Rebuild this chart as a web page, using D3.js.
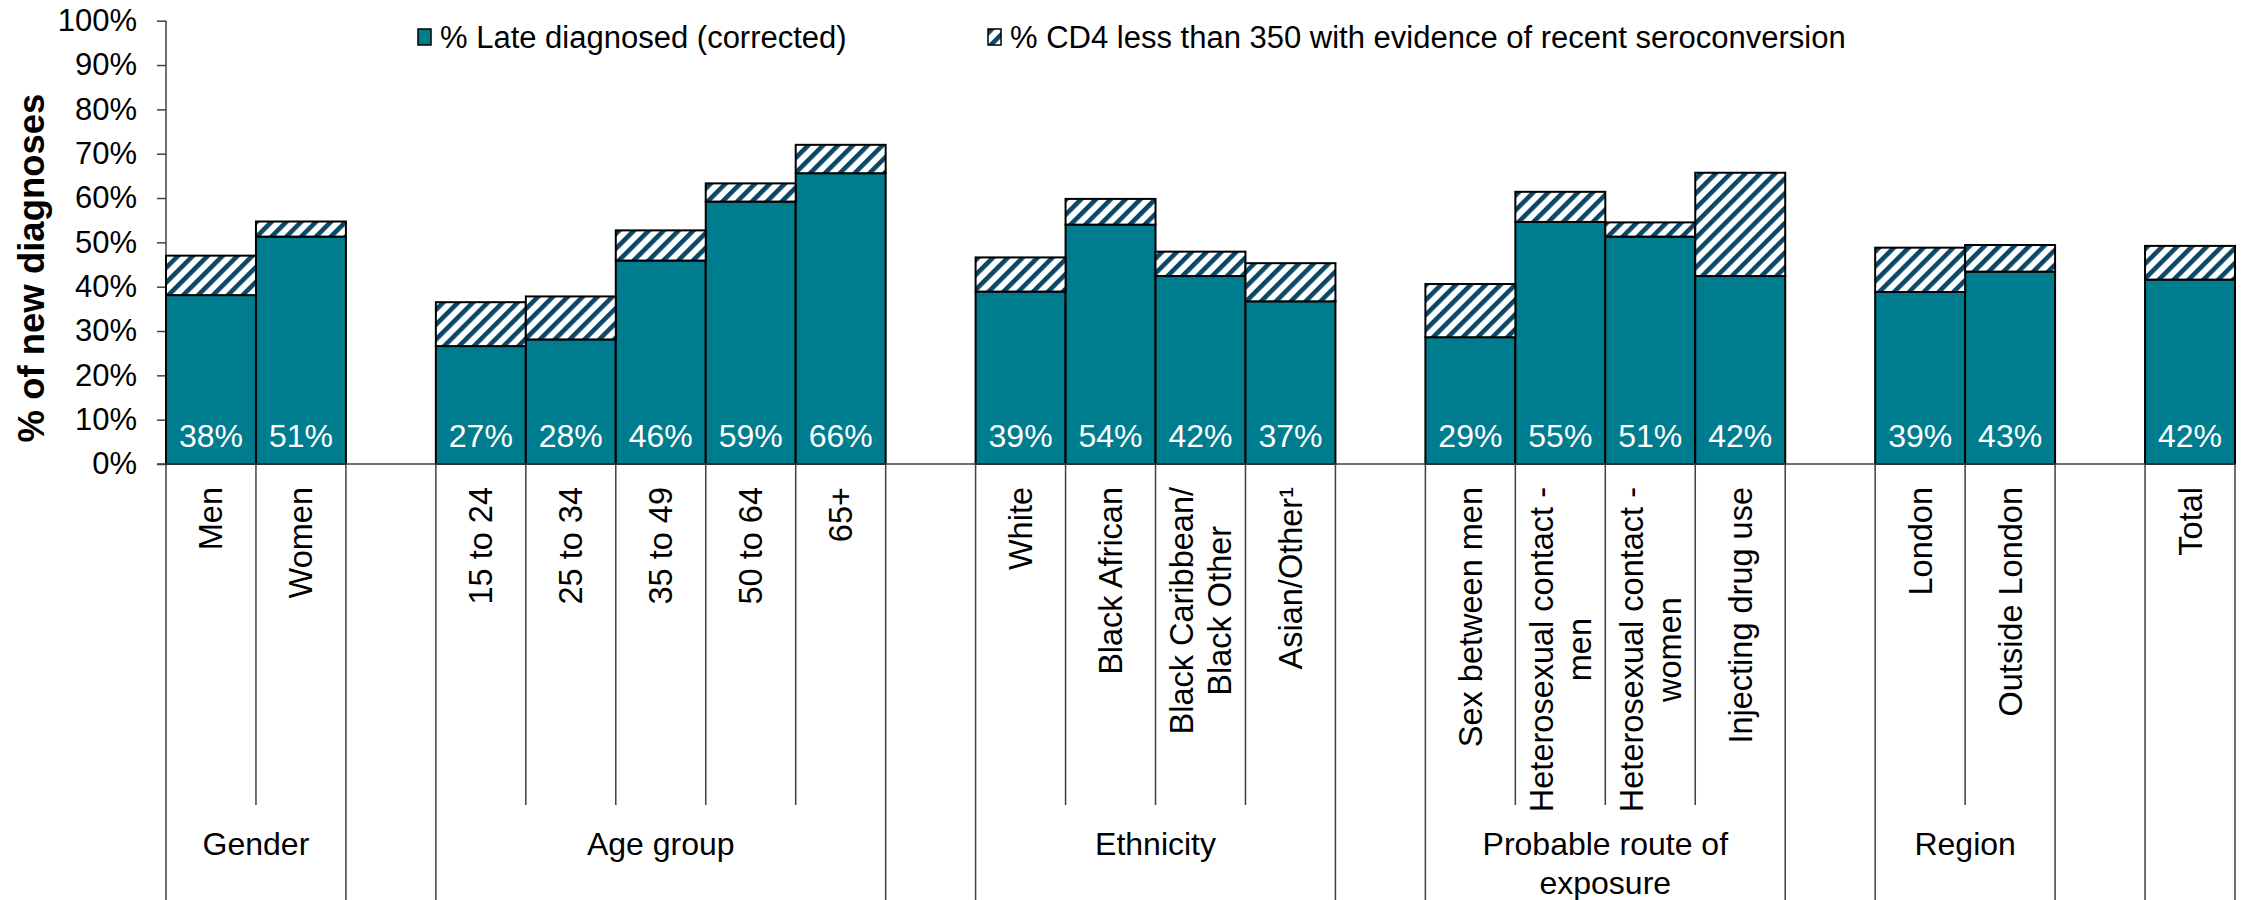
<!DOCTYPE html>
<html>
<head>
<meta charset="utf-8">
<script src="https://cdnjs.cloudflare.com/ajax/libs/d3/7.8.4/d3.min.js"></script>
<style>
  body { margin: 0; background: #fff; }
  svg { display: block; font-family: "Liberation Sans", Arial, sans-serif; }
</style>
</head>
<body>
<div id="chart"></div>
<script>
// categories, blank strings are the spacer slots between groups
const categories = ["Men", "Women", "",
  "15 to 24", "25 to 34", "35 to 49", "50 to 64", "65+", "",
  "White", "Black African", "Black Caribbean/\nBlack Other", "Asian/Other\u00b9", "",
  "Sex between men", "Heterosexual contact -\nmen", "Heterosexual contact -\nwomen", "Injecting drug use", "",
  "London", "Outside London", "",
  "Total"];

// % late diagnosed (corrected)
const lateDiagnosed = [38.1, 51.3, null,
  26.6, 28.1, 45.9, 59.2, 65.6, null,
  38.9, 54.0, 42.4, 36.7, null,
  28.6, 54.6, 51.3, 42.4, null,
  38.8, 43.4, null,
  41.6];

// % CD4 < 350 with evidence of recent seroconversion (stacked on top)
const recentSeroconversion = [8.9, 3.4, null,
  9.9, 9.7, 6.8, 4.1, 6.4, null,
  7.7, 5.8, 5.5, 8.6, null,
  12.0, 6.8, 3.2, 23.3, null,
  10.0, 6.0, null,
  7.6];

const groupNames = ["Gender", "", "Age group", "", "Ethnicity", "", "Probable route of\nexposure", "", "Region", "", ""];
const groupSizes = [2, 1, 5, 1, 4, 1, 4, 1, 2, 1, 1];

const yTicks = d3.range(0, 101, 10);
const seriesNames = ["% Late diagnosed (corrected)", "% CD4 less than 350 with evidence of recent seroconversion"];

(function() {
  const W = 2242, H = 900;
  const teal = "#007c8f", navy = "#0b4868";

  const svg = d3.select("#chart").append("svg")
    .attr("width", W).attr("height", H);

  // hatch pattern for the stacked part
  const defs = svg.append("defs");
  const pat = defs.append("pattern")
    .attr("id", "hatch")
    .attr("patternUnits", "userSpaceOnUse")
    .attr("width", 10.5).attr("height", 10.5)
    .attr("patternTransform", "rotate(45)");
  pat.append("rect").attr("width", 10.5).attr("height", 10.5).attr("fill", "#fff");
  pat.append("rect").attr("width", 4.6).attr("height", 10.5).attr("fill", navy);

  const x = d3.scaleBand()
    .domain(d3.range(categories.length))
    .range([166, 2235])
    .padding(0);

  const y = d3.scaleLinear()
    .domain([0, 100])
    .range([464, 20.7]);

  // y axis
  const yAxis = svg.append("g")
    .attr("transform", "translate(166,0)")
    .call(d3.axisLeft(y).tickValues(yTicks).tickFormat(d => d + "%").tickSize(9).tickPadding(20));
  yAxis.select(".domain").remove();
  yAxis.selectAll(".tick line").attr("stroke", "#404040").attr("stroke-width", 1.5);
  yAxis.selectAll(".tick text")
    .attr("fill", "#000")
    .style("font-size", "31px")
    .style("font-family", "'Liberation Sans', Arial, sans-serif");

  svg.append("line")
    .attr("x1", 166).attr("x2", 166)
    .attr("y1", y(100)).attr("y2", H)
    .attr("stroke", "#404040").attr("stroke-width", 1.5);

  svg.append("text")
    .attr("transform", "translate(44," + 268 + ") rotate(-90)")
    .attr("text-anchor", "middle")
    .style("font-size", "36.5px")
    .style("font-weight", "bold")
    .text("% of new diagnoses");

  // bars
  const idx = d3.range(categories.length).filter(i => lateDiagnosed[i] != null);
  const bars = svg.append("g");

  bars.selectAll("rect.late")
    .data(idx)
    .join("rect")
    .attr("class", "late")
    .attr("x", i => x(i))
    .attr("width", x.bandwidth())
    .attr("y", i => y(lateDiagnosed[i]))
    .attr("height", i => y(0) - y(lateDiagnosed[i]))
    .attr("fill", teal)
    .attr("stroke", "#000")
    .attr("stroke-width", 2);

  bars.selectAll("rect.sero")
    .data(idx)
    .join("rect")
    .attr("class", "sero")
    .attr("x", i => x(i))
    .attr("width", x.bandwidth())
    .attr("y", i => y(lateDiagnosed[i] + recentSeroconversion[i]))
    .attr("height", i => y(lateDiagnosed[i]) - y(lateDiagnosed[i] + recentSeroconversion[i]))
    .attr("fill", "url(#hatch)")
    .attr("stroke", "#000")
    .attr("stroke-width", 2);

  bars.selectAll("text.lbl")
    .data(idx)
    .join("text")
    .attr("class", "lbl")
    .attr("x", i => x(i) + x.bandwidth() / 2)
    .attr("y", y(0) - 17)
    .attr("text-anchor", "middle")
    .attr("fill", "#fff")
    .style("font-size", "32px")
    .text(i => Math.round(lateDiagnosed[i]) + "%");

  // x axis line
  svg.append("line")
    .attr("x1", 157).attr("x2", 2235)
    .attr("y1", y(0)).attr("y2", y(0))
    .attr("stroke", "#404040").attr("stroke-width", 1.5);

  // category separators: long ones at group edges
  const groupEdges = new Set([0]);
  let acc = 0;
  groupSizes.forEach(s => { acc += s; groupEdges.add(acc); });
  const seps = d3.range(1, categories.length + 1);
  svg.append("g").selectAll("line")
    .data(seps)
    .join("line")
    .attr("x1", i => i < categories.length ? x(i) : x.range()[1])
    .attr("x2", i => i < categories.length ? x(i) : x.range()[1])
    .attr("y1", y(0))
    .attr("y2", i => groupEdges.has(i) ? H : 805)
    .attr("stroke", "#404040").attr("stroke-width", 1.5);

  // rotated category labels, top aligned
  const catG = svg.append("g").selectAll("g")
    .data(idx)
    .join("g")
    .attr("transform", i => "translate(" + (x(i) + x.bandwidth() / 2) + ",487) rotate(-90)");

  catG.each(function(i) {
    const g = d3.select(this);
    const lines = categories[i].split("\n");
    const texts = lines.map((l, k) => g.append("text")
      .attr("y", 11.5 + (k - (lines.length - 1) / 2) * 37.5)
      .attr("text-anchor", "middle")
      .style("font-size", "32.5px")
      .text(l));
    const maxLen = d3.max(texts, t => t.node().getComputedTextLength());
    texts.forEach(t => t.attr("x", -maxLen / 2));
  });

  // group labels
  let start = 0;
  groupSizes.forEach((s, gi) => {
    const cx = (x(start) + (start + s < categories.length ? x(start + s) : x.range()[1])) / 2;
    const lines = groupNames[gi] ? groupNames[gi].split("\n") : [];
    lines.forEach((l, k) => {
      svg.append("text")
        .attr("x", cx)
        .attr("y", 855 + k * 39)
        .attr("text-anchor", "middle")
        .style("font-size", "32px")
        .text(l);
    });
    start += s;
  });

  // legend
  const legendX = [418, 988];
  const leg = svg.append("g").selectAll("g")
    .data(seriesNames)
    .join("g")
    .attr("transform", (d, k) => "translate(" + legendX[k] + ",0)");
  leg.append("rect")
    .attr("x", 0).attr("y", 29).attr("width", 13).attr("height", 16)
    .attr("fill", (d, k) => k === 0 ? teal : "url(#hatch)")
    .attr("stroke", "#000").attr("stroke-width", 1.5);
  leg.append("text")
    .attr("x", 22).attr("y", 48)
    .style("font-size", "31px")
    .text(d => d);
})();
</script>
</body>
</html>
